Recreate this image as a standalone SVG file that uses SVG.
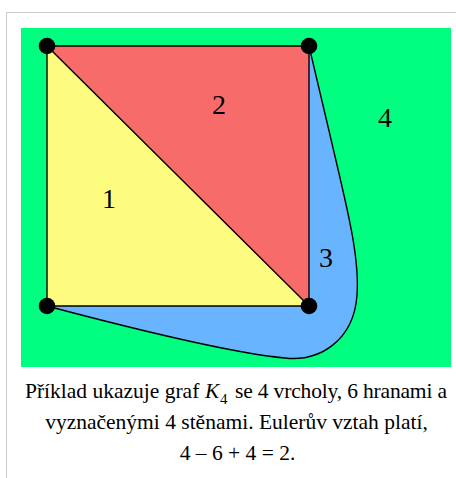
<svg xmlns="http://www.w3.org/2000/svg" width="456" height="478" viewBox="0 0 456 478">
<style>
.edge{fill:none;stroke:#000;stroke-width:1.4}
.face{stroke:none}
.lbl{font-family:"Liberation Serif",serif;font-size:28px;fill:#000;text-anchor:middle}
.cap{font-family:"Liberation Serif",serif;font-size:21.5px;fill:#000}
.mid{text-anchor:middle}
.v{fill:#000}
</style>
<rect x="0" y="0" width="456" height="478" fill="#fff"/>
<rect x="6.5" y="12.5" width="460" height="480" fill="#fff" stroke="#cccccc" stroke-width="1"/>
<g id="face4"><rect class="face" x="21" y="28" width="430" height="339" fill="#00ff80"/></g>
<g id="face1"><polygon class="face" points="47,46 309,306 47,306" fill="#fdfc7f"/></g>
<g id="face2"><polygon class="face" points="47,46 309,46 309,306" fill="#f86b6b"/></g>
<g id="face3"><path class="face" d="M47,306 L309,306 L309,46 L330,135 C345,200 360,255 357,295 C354,340 320,362 285,358 C230,353 130,328 47,306 Z" fill="#69b4ff"/></g>
<g id="edges">
<line class="edge" x1="47" y1="46" x2="309" y2="46"/>
<line class="edge" x1="47" y1="46" x2="47" y2="306"/>
<line class="edge" x1="47" y1="306" x2="309" y2="306"/>
<line class="edge" x1="309" y1="46" x2="309" y2="306"/>
<line class="edge" x1="47" y1="46" x2="309" y2="306"/>
<path class="edge" d="M309,46 L330,135 C345,200 360,255 357,295 C354,340 320,362 285,358 C230,353 130,328 47,306"/>
</g>
<g id="v1"><circle class="v" cx="47" cy="46" r="8.3"/></g>
<g id="v2"><circle class="v" cx="309" cy="46" r="8.3"/></g>
<g id="v3"><circle class="v" cx="47" cy="306" r="8.3"/></g>
<g id="v4"><circle class="v" cx="309" cy="306" r="8.3"/></g>
<g id="labels">
<text class="lbl" x="109" y="208">1</text>
<text class="lbl" x="219" y="114">2</text>
<text class="lbl" x="326" y="267">3</text>
<text class="lbl" x="385" y="127">4</text>
</g>
<g id="caption">
<text class="cap" y="398"><tspan x="25">Příklad ukazuje graf</tspan><tspan x="205" font-style="italic">K</tspan><tspan x="220" font-size="15" dy="6">4</tspan><tspan x="235" dy="-6" textLength="212" lengthAdjust="spacing">se 4 vrcholy, 6 hranami a</tspan></text>
<text class="cap mid" x="236.5" y="429">vyznačenými 4 stěnami. Eulerův vztah platí,</text>
<text class="cap mid" x="237.5" y="460">4 – 6 + 4 = 2.</text>
</g>
</svg>
